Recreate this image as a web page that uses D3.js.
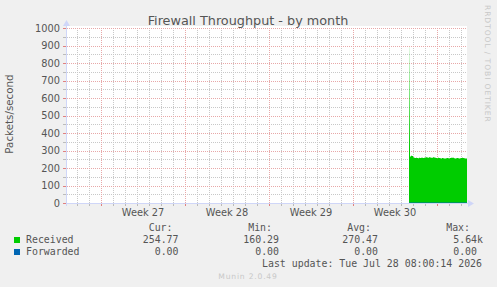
<!doctype html>
<html lang="en">
<head>
<meta charset="UTF-8">
<title>Firewall Throughput - by month</title>
<script src="https://cdn.jsdelivr.net/npm/d3@7"></script>
<style>
  body { margin: 0; background: #f0f0f0; }
  svg { display: block; font-family: "DejaVu Sans", sans-serif; }
  .mono { font-family: "DejaVu Sans Mono", monospace; white-space: pre; }
</style>
</head>
<body>
<svg width="497" height="287"></svg>
<script>
// values (packets/second, one point per 2 hours)
const yTicks = [0, 100, 200, 300, 400, 500, 600, 700, 800, 900, 1000];
const dataStart = new Date(Date.UTC(2026, 6, 23, 16));
const graphEnd = new Date(Date.UTC(2026, 6, 28, 12));
const received = [
  890, 266, 270, 268, 262, 258, 257, 258, 257, 256,
  258, 257, 259, 258, 257, 258, 260, 261, 260, 259,
  261, 260, 258, 259, 261, 260, 259, 257, 256, 258,
  257, 256, 255, 257, 256, 255, 254, 256, 257, 256,
  255, 257, 258, 259, 258, 256, 255, 256, 257, 256,
  255, 256, 257, 258, 257, 256, 255, 255
];
const forwarded = [
  0, 0, 0, 0, 0, 0, 0, 0, 0, 0,
  0, 0, 0, 0, 0, 0, 0, 0, 0, 0,
  0, 0, 0, 0, 0, 0, 0, 0, 0, 0,
  0, 0, 0, 0, 0, 0, 0, 0, 0, 0,
  0, 0, 0, 0, 0, 0, 0, 0, 0, 0,
  0, 0, 0, 0, 0, 0, 0, 0
];
const seriesNames = ['Received', 'Forwarded'];
const seriesColors = ['#00cc00', '#0066b3'];
const statHeads = ['Cur:', 'Min:', 'Avg:', 'Max:'];
const receivedStats = ['254.77', '160.29', '270.47', '5.64k'];
const forwardedStats = ['0.00', '0.00', '0.00', '0.00'];
const lastUpdate = 'Last update: Tue Jul 28 08:00:14 2026';

const svg = d3.select('svg');
const pLeft = 67, pRight = 467, pTop = 28, pBottom = 203;

const x = d3.scaleUtc()
  .domain([d3.utcHour.offset(graphEnd, -800), graphEnd])
  .range([pLeft, pRight]);
const y = d3.scaleLinear().domain([0, 1000]).range([pBottom, pTop]);

svg.append('rect').attr('x', pLeft).attr('y', pTop - 2)
  .attr('width', pRight - pLeft).attr('height', pBottom - pTop + 2).attr('fill', '#fff');

// grid
const grid = svg.append('g').attr('stroke-dasharray', '1,1').attr('shape-rendering', 'crispEdges');
d3.range(0, 1001, 50).filter(v => v % 100 !== 0).forEach(v => {
  grid.append('line').attr('x1', pLeft).attr('x2', pRight)
    .attr('y1', Math.round(y(v)) + 0.5).attr('y2', Math.round(y(v)) + 0.5)
    .attr('stroke', '#c8c8c8');
});
x.ticks(d3.utcDay).forEach(d => {
  grid.append('line').attr('x1', Math.round(x(d)) + 0.5).attr('x2', Math.round(x(d)) + 0.5)
    .attr('y1', pTop).attr('y2', pBottom).attr('stroke', '#c8c8c8');
});
yTicks.slice(1).forEach(v => {
  grid.append('line').attr('x1', pLeft).attr('x2', pRight)
    .attr('y1', Math.round(y(v)) + 0.5).attr('y2', Math.round(y(v)) + 0.5)
    .attr('stroke', '#e8a8a8');
});
const weeks = d3.utcSunday.range(x.domain()[0], x.domain()[1]);
weeks.forEach(d => {
  grid.append('line').attr('x1', Math.round(x(d)) + 0.5).attr('x2', Math.round(x(d)) + 0.5)
    .attr('y1', pTop).attr('y2', pBottom).attr('stroke', '#e8a8a8');
});

// data
const toPoints = vals => {
  const pts = vals.map((v, i) => ({ t: d3.utcHour.offset(dataStart, i * 2), v }));
  pts.push({ t: d3.utcHour.offset(dataStart, vals.length * 2), v: vals[vals.length - 1] });
  return pts;
};

const grad = svg.append('defs').append('linearGradient')
  .attr('id', 'spike').attr('gradientUnits', 'userSpaceOnUse')
  .attr('x1', 0).attr('x2', 0).attr('y1', 45).attr('y2', 150);
grad.append('stop').attr('offset', 0).attr('stop-color', seriesColors[0]).attr('stop-opacity', 0.08);
grad.append('stop').attr('offset', 1).attr('stop-color', seriesColors[0]).attr('stop-opacity', 1);

svg.append('path')
  .datum(toPoints(received))
  .attr('fill', 'url(#spike)')
  .attr('d', d3.area().curve(d3.curveStepAfter)
    .x(d => x(d.t)).y0(y(0)).y1(d => y(d.v)));

svg.append('path')
  .datum(toPoints(forwarded))
  .attr('fill', 'none').attr('stroke', seriesColors[1])
  .attr('d', d3.line().curve(d3.curveStepAfter).x(d => x(d.t)).y(d => y(d.v)));

// axes
const axisColor = '#cfd6f8';
const ax = svg.append('g').attr('shape-rendering', 'crispEdges');
ax.append('line').attr('x1', pLeft - 3).attr('x2', pRight + 2)
  .attr('y1', pBottom + 0.5).attr('y2', pBottom + 0.5).attr('stroke', axisColor);
ax.append('line').attr('x1', pLeft - 0.5).attr('x2', pLeft - 0.5)
  .attr('y1', 25).attr('y2', pBottom + 3).attr('stroke', axisColor);
svg.append('path').attr('fill', axisColor)
  .attr('d', `M${pRight + 1},${pBottom - 3}L${pRight + 7},${pBottom + 0.5}L${pRight + 1},${pBottom + 4}Z`);
svg.append('path').attr('fill', axisColor)
  .attr('d', `M${pLeft - 4},${pTop - 2}L${pLeft - 0.5},${pTop - 8}L${pLeft + 3},${pTop - 2}Z`);

x.ticks(d3.utcDay).forEach(d => {
  ax.append('line').attr('x1', Math.round(x(d)) + 0.5).attr('x2', Math.round(x(d)) + 0.5)
    .attr('y1', pBottom + 1).attr('y2', pBottom + 3).attr('stroke', '#bbb');
});
weeks.forEach(d => {
  ax.append('line').attr('x1', Math.round(x(d)) + 0.5).attr('x2', Math.round(x(d)) + 0.5)
    .attr('y1', pBottom + 1).attr('y2', pBottom + 3).attr('stroke', '#e08080');
});
d3.range(0, 1001, 50).forEach(v => {
  ax.append('line').attr('x1', pLeft - 4).attr('x2', pLeft - 1)
    .attr('y1', Math.round(y(v)) + 0.5).attr('y2', Math.round(y(v)) + 0.5)
    .attr('stroke', v % 100 ? '#bbb' : '#e08080');
});

const textColor = '#555';
svg.append('g').selectAll('text').data(yTicks).join('text')
  .attr('x', 60).attr('y', d => y(d)).attr('dy', '0.36em')
  .attr('text-anchor', 'end').attr('font-size', 9.8).attr('fill', textColor)
  .text(d => d);

const weekFmt = d3.utcFormat('Week %V');
svg.append('g').selectAll('text')
  .data(weeks.map(d => d3.utcHour.offset(d, 84)).filter(d => d >= x.domain()[0] && d <= x.domain()[1]))
  .join('text')
  .attr('x', d => x(d)).attr('y', 216)
  .attr('text-anchor', 'middle').attr('font-size', 9.8).attr('fill', textColor)
  .text(d => weekFmt(d));

svg.append('text').attr('x', 248).attr('y', 24.5).attr('text-anchor', 'middle')
  .attr('font-size', 12.8).attr('fill', textColor).text('Firewall Throughput - by month');

svg.append('text').attr('transform', 'translate(13,114) rotate(-90)')
  .attr('text-anchor', 'middle').attr('font-size', 10.3).attr('fill', textColor)
  .text('Packets/second');

svg.append('text').attr('transform', 'translate(485,5) rotate(90)')
  .attr('font-size', 7.6).attr('letter-spacing', 0.9).attr('fill', '#c8c8c8').text('RRDTOOL / TOBI OETIKER');

// legend
const headEnds = [172.5, 272, 371, 470];
const valEnds = [178.5, 279, 378, 477];
const leg = svg.append('g').attr('class', 'mono').attr('font-size', 9.9).attr('fill', textColor);
statHeads.forEach((h, i) => {
  leg.append('text').attr('x', headEnds[i]).attr('y', 231).attr('text-anchor', 'end').text(h);
});
[receivedStats, forwardedStats].forEach((stats, r) => {
  const yy = 243 + r * 12;
  svg.append('rect').attr('x', 14).attr('y', yy - 6).attr('width', 6).attr('height', 6)
    .attr('fill', seriesColors[r]);
  leg.append('text').attr('x', 26).attr('y', yy).text(seriesNames[r]);
  stats.forEach((s, i) => {
    const hasSuffix = /[a-z]$/i.test(s);
    leg.append('text').attr('x', valEnds[i] + (hasSuffix ? 6 : 0)).attr('y', yy)
      .attr('text-anchor', 'end').text(s);
  });
});
leg.append('text').attr('x', 482).attr('y', 267).attr('text-anchor', 'end').text(lastUpdate);

svg.append('text').attr('x', 248).attr('y', 279).attr('text-anchor', 'middle')
  .attr('font-size', 7.6).attr('letter-spacing', 0.8).attr('fill', '#c8c8c8').text('Munin 2.0.49');
</script>
</body>
</html>
